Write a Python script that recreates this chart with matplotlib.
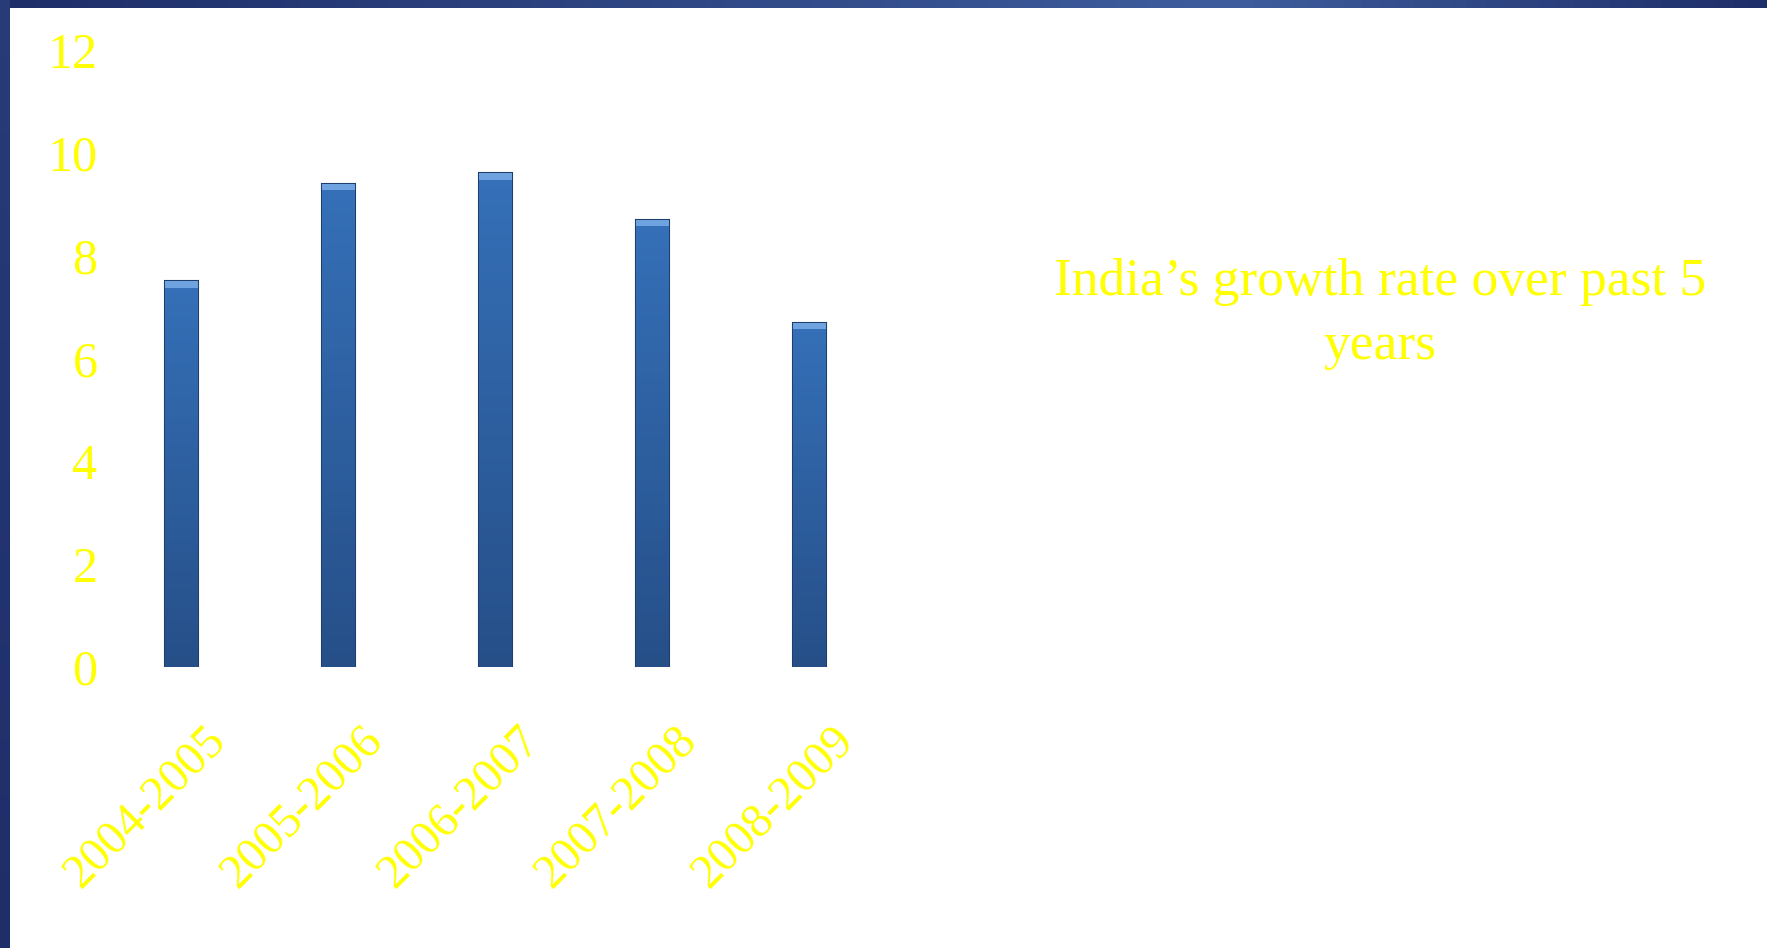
#!/usr/bin/env python3
import numpy as np
import matplotlib
matplotlib.use("Agg")
import matplotlib.pyplot as plt
import matplotlib.transforms as mtransforms
from matplotlib.colors import LinearSegmentedColormap

# ─── Data ──────────────────────────────────────────────────────────────────────
YEARS  = ["2004-2005", "2005-2006", "2006-2007", "2007-2008", "2008-2009"]
GROWTH = [7.5, 9.4, 9.6, 8.7, 6.7]
Y_TICKS = [0, 2, 4, 6, 8, 10, 12]
TITLE = "India\u2019s growth rate over past 5\nyears"

# ─── Style ─────────────────────────────────────────────────────────────────────
YELLOW    = "#FFFF00"
BAR_TOP   = "#3570B8"
BAR_BOT   = "#264F88"
BAR_EDGE  = "#1E3F6E"
NAVY_DARK = "#1E2E69"
NAVY_LITE = "#3E5C9C"
W, H, DPI = 1767, 948, 100

plt.rcParams["font.family"] = ["Liberation Serif", "DejaVu Serif"]

fig = plt.figure(figsize=(W / DPI, H / DPI), dpi=DPI, facecolor="white")

# frame decoration: gradient band on top, navy strip at left
top = fig.add_axes([0, 1 - 8 / H, 1, 8 / H])
grad = np.concatenate([np.linspace(0, 1, 70), np.linspace(1, 0, 30)])[None, :]
top.imshow(grad, aspect="auto",
           cmap=LinearSegmentedColormap.from_list("t", [NAVY_DARK, NAVY_LITE]),
           extent=[0, 1, 0, 1])
top.axis("off")
left = fig.add_axes([0, 0, 10 / W, 1])
left.imshow(np.linspace(0.3, 0, 50)[:, None], aspect="auto",
            cmap=LinearSegmentedColormap.from_list("l", [NAVY_DARK, NAVY_LITE]),
            vmin=0, vmax=1, extent=[0, 1, 0, 1])
left.axis("off")

# ─── Chart ─────────────────────────────────────────────────────────────────────
ax = fig.add_axes([103 / W, (H - 667) / H, 785 / W, 617 / H])
x = np.arange(len(YEARS))
bars = ax.bar(x, GROWTH, width=0.21, color=BAR_TOP, edgecolor=BAR_EDGE,
              linewidth=1.5, zorder=2)

# vertical shading inside each bar
shade = LinearSegmentedColormap.from_list("b", [BAR_BOT, BAR_TOP])
for b in bars:
    x0, w, h = b.get_x(), b.get_width(), b.get_height()
    im = ax.imshow(np.linspace(0, 1, 64)[:, None], cmap=shade, aspect="auto",
                   origin="lower", extent=[x0, x0 + w, 0, h], zorder=2.5)
    im.set_clip_path(b)
    # bevel cap
    ax.bar(x0 + w / 2, 0.12, width=w, bottom=h - 0.12, color="#6FA3E0",
           edgecolor="none", zorder=3)

ax.set_xlim(-0.5, len(YEARS) - 0.5)
ax.set_ylim(0, 12)
ax.set_yticks(Y_TICKS)
ax.set_yticklabels([str(v) for v in Y_TICKS], fontsize=36, color=YELLOW)
ax.set_xticks(x)
ax.set_xticklabels(YEARS, fontsize=34.5, color=YELLOW, rotation=45,
                   ha="right", va="center", rotation_mode="anchor")
ax.tick_params(axis="both", length=0)
ax.tick_params(axis="y", pad=4)
offset = mtransforms.ScaledTranslation(38 / DPI, -62 / DPI, fig.dpi_scale_trans)
for lab in ax.get_xticklabels():
    lab.set_transform(lab.get_transform() + offset)
for s in ax.spines.values():
    s.set_visible(False)
ax.set_facecolor("none")

fig.text(1380 / W, 1 - 314 / H, TITLE, fontsize=38.5, color=YELLOW,
         ha="center", va="center", linespacing=1.45)

fig.savefig("out.png", dpi=DPI, facecolor="white")
